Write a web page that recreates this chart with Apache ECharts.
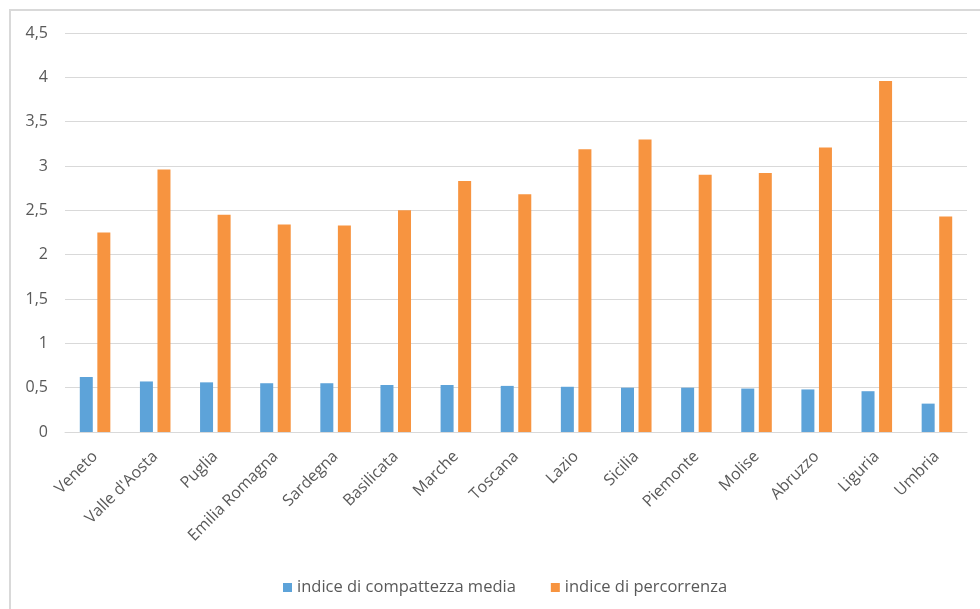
<!DOCTYPE html>
<html>
<head>
<meta charset="utf-8">
<script src="https://cdn.jsdelivr.net/npm/echarts@6/dist/echarts.min.js"></script>
<style>
html,body{margin:0;padding:0;background:#fff;}
#chart{width:980px;height:609px;}
</style>
</head>
<body>
<div id="chart"></div>
<script>
const categories = ["Veneto","Valle d'Aosta","Puglia","Emilia Romagna","Sardegna","Basilicata","Marche","Toscana","Lazio","Sicilia","Piemonte","Molise","Abruzzo","Liguria","Umbria"];
const compattezza = [0.62,0.57,0.56,0.55,0.55,0.53,0.53,0.52,0.51,0.50,0.50,0.49,0.48,0.46,0.32];
const percorrenza = [2.25,2.96,2.45,2.34,2.33,2.50,2.83,2.68,3.19,3.30,2.90,2.92,3.21,3.96,2.43];
const seriesNames = ["indice di compattezza media","indice di percorrenza"];

const FONT = "Open Sans";
const TXT = "#595959";
const chart = echarts.init(document.getElementById('chart'), null, {renderer:'canvas'});
chart.setOption({
  animation:false,
  backgroundColor:'#ffffff',
  textStyle:{fontFamily:FONT},
  graphic:[{
    type:'rect', shape:{x:10,y:10,width:1000,height:700},
    style:{fill:'none',stroke:'#D9D9D9',lineWidth:2}, silent:true, z:-1
  }],
  grid:{left:65,right:13,top:33,bottom:177,containLabel:false},
  legend:{
    data:seriesNames, left:278, top:574,
    icon:'rect', itemWidth:9, itemHeight:9, itemGap:35,
    textStyle:{color:TXT,fontSize:16.5,fontFamily:FONT}
  },
  xAxis:{
    type:'category', data:categories,
    axisLine:{show:true,lineStyle:{color:'#D9D9D9',width:1}},
    axisTick:{show:false},
    axisLabel:{rotate:45,interval:0,color:TXT,fontSize:16,fontFamily:FONT,margin:22}
  },
  yAxis:{
    type:'value', min:0, max:4.5, interval:0.5,
    axisLine:{show:false}, axisTick:{show:false},
    splitLine:{lineStyle:{color:'#D9D9D9',width:1}},
    axisLabel:{color:TXT,fontSize:16,fontFamily:FONT,margin:17,
      formatter:v=>String(v).replace('.',',')}
  },
  series:[
    {name:seriesNames[0],type:'bar',data:compattezza,barWidth:13,barGap:'35%',
     itemStyle:{color:'#5DA3D9'}},
    {name:seriesNames[1],type:'bar',data:percorrenza,barWidth:13,barGap:'35%',
     itemStyle:{color:'#F79440'}}
  ]
});
</script>
</body>
</html>
